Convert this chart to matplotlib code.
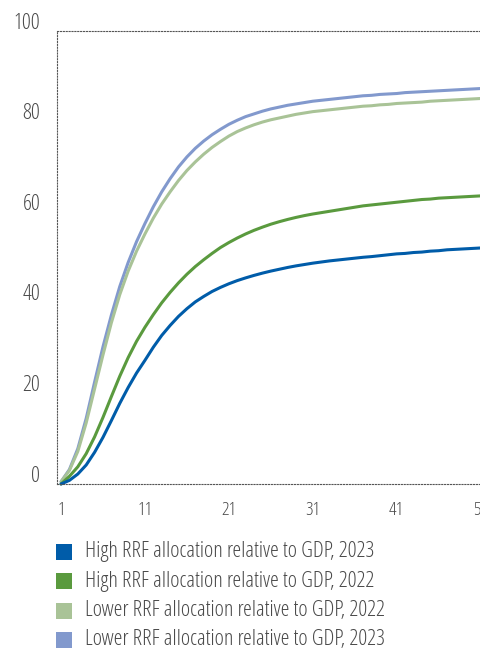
import numpy as np
import matplotlib
matplotlib.use("Agg")
import matplotlib.pyplot as plt
import matplotlib.transforms as mtransforms
from matplotlib.patches import Rectangle

plt.rcParams['font.family'] = ['Open Sans', 'Liberation Sans', 'DejaVu Sans']
plt.rcParams['font.stretch'] = 'condensed'
plt.rcParams['font.weight'] = 'normal'

# # # # # # # # # # data # # # # # # # # # #
months = list(range(1, 52))

high_2023 = [0, 0.8, 2.2, 4.2, 7.0, 10.3, 14.0, 17.8, 21.3, 24.5,
             27.3, 30.2, 32.8, 35.0, 37.0, 38.7, 40.2, 41.4, 42.5, 43.4,
             44.2, 44.9, 45.5, 46.05, 46.55, 47.0, 47.4, 47.8, 48.15, 48.45,
             48.75, 49.0, 49.25, 49.45, 49.65, 49.85, 50.05, 50.2, 50.4, 50.6,
             50.8, 50.9, 51.1, 51.2, 51.4, 51.5, 51.7, 51.8, 51.9, 52.0, 52.1]

high_2022 = [0, 1.7, 3.8, 6.7, 10.4, 14.7, 19.3, 23.8, 27.9, 31.5,
             34.6, 37.4, 40.0, 42.3, 44.4, 46.3, 48.0, 49.5, 50.9, 52.2,
             53.3, 54.3, 55.2, 56.0, 56.7, 57.35, 57.9, 58.4, 58.85, 59.25,
             59.6, 59.9, 60.2, 60.5, 60.8, 61.1, 61.4, 61.6, 61.8, 62.0,
             62.2, 62.4, 62.6, 62.8, 62.9, 63.1, 63.2, 63.3, 63.4, 63.5, 63.6]

lower_2022 = [0.5, 3.0, 7.2, 13.5, 21.0, 28.5, 35.6, 41.8, 47.0, 51.4,
              55.2, 58.7, 61.8, 64.5, 67.0, 69.2, 71.1, 72.8, 74.3, 75.6,
              76.8, 77.8, 78.6, 79.3, 79.9, 80.4, 80.8, 81.2, 81.6, 81.9,
              82.2, 82.4, 82.6, 82.8, 83.0, 83.2, 83.4, 83.5, 83.7, 83.8,
              84.0, 84.1, 84.2, 84.3, 84.5, 84.6, 84.7, 84.8, 84.9, 85.0, 85.1]

lower_2023 = [0.5, 3.2, 7.8, 14.5, 22.5, 30.3, 37.3, 43.6, 48.9, 53.5,
              57.5, 61.2, 64.5, 67.4, 70.0, 72.2, 74.1, 75.7, 77.1, 78.3,
              79.4, 80.3, 81.1, 81.7, 82.3, 82.8, 83.2, 83.6, 83.9, 84.2,
              84.5, 84.7, 84.9, 85.1, 85.3, 85.5, 85.7, 85.8, 86.0, 86.1,
              86.2, 86.4, 86.5, 86.6, 86.7, 86.8, 86.9, 87.0, 87.1, 87.2, 87.3]

labels = ["High RRF allocation relative to GDP, 2023",
          "High RRF allocation relative to GDP, 2022",
          "Lower RRF allocation relative to GDP, 2022",
          "Lower RRF allocation relative to GDP, 2023"]
colors = ["#005ca9", "#5a9a3e", "#a9c397", "#8299cd"]
series = [high_2023, high_2022, lower_2022, lower_2023]

xticks = [1, 11, 21, 31, 41, 51]
yticks = [0, 20, 40, 60, 80, 100]

# # # # # # # # # # figure # # # # # # # # # #
fig = plt.figure(figsize=(4.8, 6.54), dpi=100)
ax = fig.add_axes([57/480, 170/654, 0.90, 453/654])

# lighter ones first so the dark blue sits on top
for i in [3, 2, 1, 0]:
    ax.plot(months, series[i], color=colors[i], linewidth=2.2,
            solid_capstyle='round', clip_on=False)

ax.set_xlim(0.52, 52)
ax.set_ylim(0, 100)
ax.set_xticks(xticks)
ax.set_yticks(yticks)
ax.tick_params(length=0, labelcolor='#4a4a4a')
ax.tick_params(axis='y', labelsize=16, pad=12)
ax.tick_params(axis='x', labelsize=13.5, pad=12)

# y labels sit a little above their gridline
offset = mtransforms.ScaledTranslation(0, 0.08, fig.dpi_scale_trans)
for lab in ax.get_yticklabels():
    lab.set_verticalalignment('center')
    lab.set_transform(lab.get_transform() + offset)

for s in ['left', 'top', 'bottom', 'right']:
    ax.spines[s].set_linestyle((0, (1, 1.6)))
    ax.spines[s].set_linewidth(0.8)
    ax.spines[s].set_color('#555555')

# # # # # # # # # # legend # # # # # # # # # #
for i, (lab, col) in enumerate(zip(labels, colors)):
    yc = 654 - (552 + i*29.3)
    fig.add_artist(Rectangle((56/480, (yc-8)/654), 16/480, 16/654,
                             transform=fig.transFigure, color=col, lw=0))
    fig.text(85/480, yc/654, lab, fontsize=16, color='#4a4a4a',
             va='center', ha='left')

fig.savefig("out.png", dpi=100)
